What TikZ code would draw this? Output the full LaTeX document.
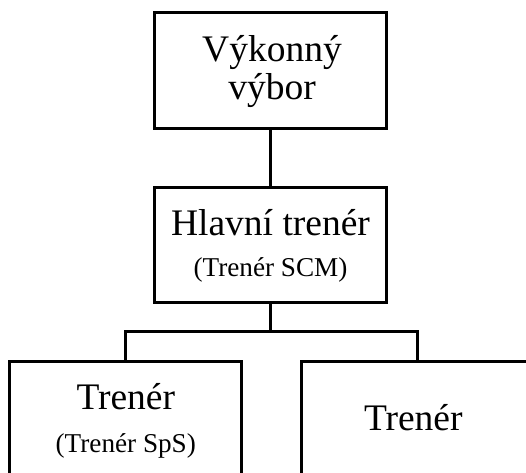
\documentclass[tikz,border=0pt]{standalone}
\usepackage{fontspec}
\setmainfont{Liberation Serif}
\begin{document}
\begin{tikzpicture}[x=1pt,y=1pt,
  box/.style={draw, line width=3pt, minimum width=231.5pt, minimum height=115pt, inner sep=0pt},
  link/.style={line width=3pt},
  big/.style={font=\fontsize{37.5}{37.5}\selectfont, inner sep=0pt, anchor=base},
  small/.style={font=\fontsize{27.2}{27.2}\selectfont, inner sep=0pt, anchor=base}]
\useasboundingbox (0,0) rectangle (526,472);
\clip (0,0) rectangle (526,472);

% boxes
\node[box] (board) at (270.7,401.5) {};
\node[box] (head)  at (270.7,227.5) {};
\node[box] (left)  at (125.5,53.5) {};
\node[box] (right) at (417,53.5) {};

% labels
\node[big]   (t1) at (272,410.3) {Výkonný};
\node[big]   (t2) at (272,372) {výbor};
\node[big]   (t3) at (270.5,237) {Hlavní trenér};
\node[small] (t4) at (270.5,195.3) {(Trenér SCM)};
\node[big]   (t5) at (125.8,62.7) {Trenér};
\node[small] (t6) at (125.8,19.3) {(Trenér SpS)};
\node[big]   (t7) at (413.3,42) {Trenér};

% connectors
\coordinate (fork) at (270.7,140.3);
\draw[link] (board.south) -- (head.north);
\draw[link] (head.south) -- (fork);
\draw[link] (left.north) |- (fork) -| (right.north);
\end{tikzpicture}
\end{document}
